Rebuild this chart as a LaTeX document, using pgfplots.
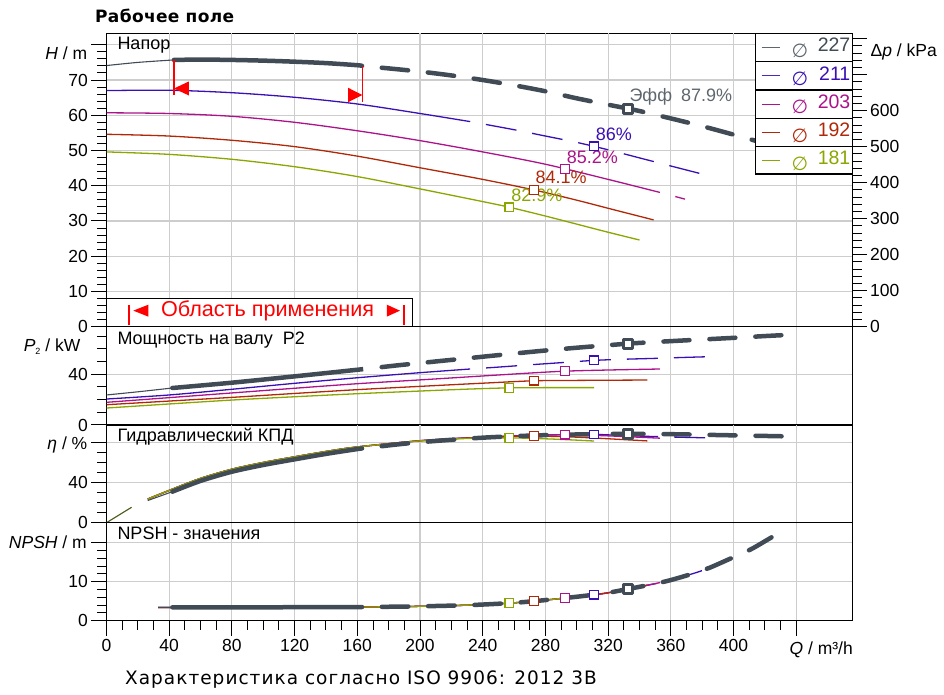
\documentclass[border=0pt]{standalone}
\usepackage{fontspec}
\setmainfont{Liberation Sans}
\newfontfamily\dejavu{DejaVu Sans}
\newfontfamily\dejavuw[LetterSpace=5.5]{DejaVu Sans}
\newfontfamily\dejavut[LetterSpace=2]{DejaVu Sans}
\usepackage{pgfplots}
\pgfplotsset{compat=1.18}
\definecolor{cA}{RGB}{65,75,85}
\definecolor{cB}{RGB}{58,16,180}
\definecolor{cC}{RGB}{172,18,138}
\definecolor{cD}{RGB}{176,40,8}
\definecolor{cE}{RGB}{138,166,0}
\definecolor{gridc}{RGB}{205,205,205}
\newcommand{\tf}{\fontsize{17.5}{20}\selectfont}
\pgfplotsset{
  panel/.style={scale only axis, width=746.2pt, xmin=0, xmax=476, anchor=south west,
    axis line style={line width=1.3pt, black},
    ymajorgrids, grid style={gridc, line width=1.1pt},
    tick align=outside, major tick length=15pt, minor tick length=9pt,
    tick style={black, line width=1pt},
    ytick pos=left, xtick pos=bottom,
    ticklabel style={font=\tf},
    /pgf/number format/assume math mode=true,
  },
  upper/.style={xtick=\empty, extra x ticks={40,80,...,440}, extra x tick labels={},
    extra x tick style={grid=major, major tick length=0pt}},
  cthin/.style={cA, line width=1.1pt, smooth},
  col/.style={line width=1.3pt, smooth},
  cthick/.style={cA, line width=4.5pt, line cap=round, smooth},
  cdash/.style={cA, line width=4.5pt, line cap=round, smooth, dash pattern=on 26.5pt off 19.8pt, dash phase=26.5pt},
  cdashb/.style={cA, line width=4.5pt, line cap=round, smooth, dash pattern=on 26pt off 20pt, dash phase=10.2pt},
  bdash/.style={cB, line width=1.3pt, smooth, dash pattern=on 31pt off 16pt, dash phase=31pt},
  smk/.style={only marks, mark=square*, mark size=4.3pt, mark options={fill=white, line width=1.2pt, solid}},
  bmk/.style={only marks, mark=square*, mark size=4.5pt, mark options={draw=cA, fill=white, line width=3pt, line join=round, solid}},
}
\begin{document}
\begin{tikzpicture}
\useasboundingbox (0,0) rectangle (944pt,695pt);

% ================= H panel
\begin{axis}[panel, upper, at={(106.5pt,368.3pt)}, height=293.4pt, ymin=0, ymax=83.26,
  ytick={0,10,20,30,40,50,60,70,80}, yticklabels={0,10,20,30,40,50,60,70,{}}, minor y tick num=4]
\addplot[cB, col] coordinates {(0,67.0) (40,67.1) (80,66.4) (120,65.1) (160,63.2) (200,60.5) (232,58.2)};
\addplot[bdash] coordinates {(232,58.2) (260,55.9) (280,54.1) (300,52.3) (320,50.2) (340,47.9) (360,45.6) (381,43.2)};
\addplot[cC, col] coordinates {(0,60.7) (40,60.5) (80,59.7) (120,58.0) (160,55.6) (200,52.8) (240,49.6) (280,46.1) (320,41.8) (353,38.1)};
\addplot[cC, line width=1.3pt, dash pattern=on 31pt off 16pt, dash phase=31pt] coordinates {(353,38.1) (369,36.2)};
\addplot[cD, col] coordinates {(0,54.6) (40,54.1) (80,52.9) (120,51.1) (160,48.4) (200,45.1) (240,41.8) (272.7,38.8) (300,35.9) (320,33.6) (349,30.3)};
\addplot[cE, col] coordinates {(0,49.6) (40,48.9) (80,47.5) (120,45.4) (160,42.6) (200,39.1) (240,35.5) (257,33.9) (280,31.4) (300,29.1) (320,26.8) (340,24.6)};
\addplot[cthin] coordinates {(0,74.1) (20,75.0) (43,75.7)};
\addplot[cthick] coordinates {(43,75.7) (60,75.8) (80,75.7) (100,75.5) (120,75.2) (140,74.8) (160,74.2) (163,74.0)};
\addplot[cdash] coordinates {(163,74.0) (180,73.3) (200,72.4) (220,71.3) (240,70.0) (260,68.5) (280,66.8) (300,64.8) (320,63.0) (332.5,61.9)};
\addplot[cdashb] coordinates {(332.5,61.9) (340,61.2) (360,59.1) (380,56.9) (400,54.5) (420,52.0) (431,50.6)};
\addplot[cB, smk] coordinates {(311,51.2)};
\addplot[cC, smk] coordinates {(292.5,44.8)};
\addplot[cD, smk] coordinates {(272.7,38.8)};
\addplot[cE, smk] coordinates {(257,33.9)};
\addplot[bmk] coordinates {(332.5,61.9)};
% operating range marks
\addplot[red, line width=1.2pt] coordinates {(43.06,75.7) (43.06,65.75)};
\addplot[red, line width=1.2pt] coordinates {(163.2,74.0) (163.2,63.85)};
\addplot[red, fill=red, draw=none] coordinates {(43.06,67.6) (52.6,69.6) (52.6,65.6)} -- cycle;
\addplot[red, fill=red, draw=none] coordinates {(163.2,65.75) (154.1,67.8) (154.1,63.7)} -- cycle;
% efficiency labels
\node[anchor=west, inner sep=0pt, text=cA!85, font=\fontsize{18}{20}\selectfont] at (axis cs:333.5,65.3) {Эфф\hspace{9pt}87.9\%};
\node[anchor=west, inner sep=0pt, text=cB, font=\fontsize{18}{20}\selectfont] at (axis cs:312.1,54.7) {86\%};
\node[anchor=west, inner sep=0pt, text=cC, font=\fontsize{18}{20}\selectfont] at (axis cs:293.6,48.2) {85.2\%};
\node[anchor=west, inner sep=0pt, text=cD, font=\fontsize{18}{20}\selectfont] at (axis cs:273.6,42.4) {84.1\%};
\node[anchor=west, inner sep=0pt, text=cE, font=\fontsize{18}{20}\selectfont] at (axis cs:258.1,37.4) {82.9\%};
% application range box
\draw[black, line width=1pt, fill=white] (axis cs:0,0) rectangle (axis cs:195,7.86);
\draw[red, line width=2pt] (axis cs:14.4,0.4) -- (axis cs:14.4,6.1);
\draw[red, line width=2pt] (axis cs:189.8,0.4) -- (axis cs:189.8,6.1);
\fill[red] (axis cs:17.1,4.55) -- (axis cs:26.7,6.25) -- (axis cs:26.7,2.85) -- cycle;
\fill[red] (axis cs:187.2,4.55) -- (axis cs:178.8,6.25) -- (axis cs:178.8,2.85) -- cycle;
\node[text=red, font=\fontsize{21.6}{24}\selectfont, inner sep=0pt] at (axis cs:102.8,4.55) {Область применения};
\end{axis}

% ================= Delta p axis
\begin{axis}[scale only axis, width=746.2pt, height=293.4pt, at={(106.5pt,368.3pt)}, anchor=south west,
  xmin=0, xmax=476, ymin=0, ymax=815.1, axis x line=none, axis y line*=right,
  axis line style={-, line width=1.3pt, black},
  ytick={0,100,200,300,400,500,600,700,800}, yticklabels={0,100,200,300,400,500,600,{},{}},
  minor y tick num=4, tick align=outside, major tick length=14pt, minor tick length=9pt,
  tick style={black, line width=1pt}, ticklabel style={font=\tf},
  /pgf/number format/assume math mode=true]
\addplot[draw=none] coordinates {(0,0)};
\end{axis}

% ================= P panel
\begin{axis}[panel, upper, at={(106.5pt,270pt)}, height=98.3pt, ymin=0, ymax=77.6,
  ytick={0,40,80}, yticklabels={0,40,{}}, minor y tick num=3]
\addplot[cB, col] coordinates {(0,20.5) (40,23.7) (80,28.2) (120,32.9) (160,37.3) (200,41.3) (232,44.2)};
\addplot[bdash] coordinates {(232,44.2) (250,45.7) (270,47.5) (290,49.2) (311,51.0) (330,51.9) (350,52.6) (370,53.4) (384,53.9)};
\addplot[cC, col] coordinates {(0,17.9) (40,21.6) (80,25.3) (120,29.0) (160,32.6) (200,35.6) (240,38.7) (270,41.0) (292.5,42.5) (320,43.4) (353,44.2)};
\addplot[cD, col] coordinates {(0,16.0) (40,18.9) (80,21.8) (120,24.9) (160,27.9) (200,30.5) (240,33.0) (272.7,34.9) (300,35.2) (345,35.5)};
\addplot[cE, col] coordinates {(0,13.4) (40,16.6) (80,19.7) (120,22.3) (160,24.7) (200,26.8) (230,28.3) (257,29.3) (285,29.5) (311,29.5)};
\addplot[cthin] coordinates {(0,23.7) (20,26.2) (42,29.2)};
\addplot[cthick] coordinates {(42,29.2) (80,33.4) (120,38.4) (160,43.6) (163,44.0)};
\addplot[cdash] coordinates {(163,44.0) (185,47.0) (200,48.9) (220,51.4) (240,53.9) (260,56.4) (280,58.8) (300,61.0) (320,63.0) (332.5,64.2)};
\addplot[cdashb] coordinates {(332.5,64.2) (340,64.8) (360,66.2) (380,67.5) (400,68.8) (420,70.2) (431,70.9)};
\addplot[cB, smk] coordinates {(311,51.0)};
\addplot[cC, smk] coordinates {(292.5,42.5)};
\addplot[cD, smk] coordinates {(272.7,34.9)};
\addplot[cE, smk] coordinates {(257,29.3)};
\addplot[bmk] coordinates {(332.5,64.2)};
\end{axis}

% ================= eta panel
\begin{axis}[panel, upper, at={(106.5pt,172.3pt)}, height=97.7pt, ymin=0, ymax=97.0,
  ytick={0,40,80}, yticklabels={0,40,{}}, minor y tick num=3]
\addplot[cB, col] coordinates {(26.3,23.5) (42,33.3) (60,44.0) (80,53.1) (100,59.8) (120,65.4) (140,70.7) (160,75.2) (200,81.4) (232,84.4)};
\addplot[bdash] coordinates {(232,84.4) (260,86.0) (280,87.0) (311,87.6) (330,86.5) (350,85.5) (370,84.7) (384,84.2)};
\addplot[cC, col] coordinates {(26.3,23.5) (42,33.3) (60,44.0) (80,53.1) (100,59.8) (120,65.4) (140,70.7) (160,75.2) (200,81.4) (240,84.9) (270,86.7) (292.5,87.4) (320,86.2) (353,83.9)};
\addplot[cD, col] coordinates {(26.3,23.5) (42,33.3) (60,44.0) (80,53.1) (100,59.8) (120,65.4) (140,70.7) (160,75.2) (200,81.3) (240,84.8) (272.7,85.9) (300,84.9) (345,81.2)};
\addplot[cE, col] coordinates {(26.3,23.5) (42,33.3) (60,44.0) (80,53.1) (100,59.8) (120,65.4) (140,70.7) (160,75.2) (200,81.2) (230,83.6) (257,84.2) (285,83.0) (311,81.1)};
\addplot[cE, line width=1.2pt] coordinates {(0,0) (16,15.3)};
\addplot[cA, line width=0.7pt] coordinates {(0,0) (16,15.3)};
\addplot[cthin] coordinates {(26.3,22.0) (42,30.8)};
\addplot[cthick] coordinates {(42,30.8) (60,41.5) (80,50.6) (100,57.3) (120,62.9) (140,68.3) (160,73.1) (163,73.7)};
\addplot[cdash] coordinates {(163,73.7) (185,77.6) (200,79.9) (220,82.3) (240,84.4) (260,85.9) (280,86.9) (300,87.6) (320,88.1) (332.5,88.3)};
\addplot[cdashb] coordinates {(332.5,88.3) (354,88.0) (374,87.5) (394,86.9) (414,86.3) (431,85.8)};
\addplot[cB, smk] coordinates {(311,87.6)};
\addplot[cC, smk] coordinates {(292.5,87.4)};
\addplot[cD, smk] coordinates {(272.7,85.9)};
\addplot[cE, smk] coordinates {(257,84.2)};
\addplot[bmk] coordinates {(332.5,88.3)};
\end{axis}

% ================= NPSH panel
\begin{axis}[panel, at={(106.5pt,74.3pt)}, height=98pt, ymin=0, ymax=25.1,
  xmajorgrids, xtick={0,40,80,120,160,200,240,280,320,360,400,440},
  xticklabels={0,40,80,120,160,200,240,280,320,360,400,{}}, minor x tick num=3,
  ytick={0,10,20}, yticklabels={0,10,{}}, minor y tick num=4]
\addplot[cB, col] coordinates {(33,3.4) (80,3.43) (120,3.45) (163,3.5) (190,3.62) (214,3.8) (232,3.98)};
\addplot[bdash] coordinates {(232,3.98) (257,4.5) (272.7,5.0) (292.5,5.8) (311,6.65) (320,7.15) (332.5,8.1) (356,10.0) (376,12.3) (384,13.45)};
\addplot[cC, col] coordinates {(33,3.4) (80,3.43) (120,3.45) (163,3.5) (190,3.62) (214,3.8) (235,4.05) (257,4.5) (272.7,5.0) (292.5,5.8) (311,6.65) (320,7.15) (332.5,8.1) (353,9.75)};
\addplot[cD, col] coordinates {(33,3.4) (80,3.43) (120,3.45) (163,3.5) (190,3.62) (214,3.8) (235,4.05) (257,4.5) (272.7,5.0) (292.5,5.8) (311,6.65) (320,7.15) (332.5,8.1) (345,9.1)};
\addplot[cE, col] coordinates {(33,3.4) (80,3.43) (120,3.45) (163,3.5) (190,3.62) (214,3.8) (235,4.05) (257,4.5) (272.7,5.0) (292.5,5.8) (311,6.65)};
\addplot[cthin] coordinates {(33,3.4) (42,3.43)};
\addplot[cthick] coordinates {(42,3.43) (80,3.43) (120,3.45) (163,3.5)};
\addplot[cdash] coordinates {(163,3.5) (190,3.62) (214,3.8) (235,4.05) (257,4.5) (272.7,5.0) (292.5,5.8) (311,6.65) (320,7.15) (332.5,8.1)};
\addplot[cdashb] coordinates {(332.5,8.1) (356,10.0) (376,12.3) (385,13.6) (404,17.0) (413,18.7) (431,23.0)};
\addplot[cB, smk] coordinates {(311,6.65)};
\addplot[cC, smk] coordinates {(292.5,5.8)};
\addplot[cD, smk] coordinates {(272.7,5.0)};
\addplot[cE, smk] coordinates {(257,4.5)};
\addplot[bmk] coordinates {(332.5,8.1)};
\end{axis}

% ================= legend
\draw[line width=1.2pt, fill=white] (755.7pt,521pt) rectangle (852.7pt,661.7pt);
\draw[line width=1.2pt] (755.7pt,633.3pt) -- (852.7pt,633.3pt);
\draw[line width=1.2pt] (755.7pt,605pt) -- (852.7pt,605pt);
\draw[line width=1.2pt] (755.7pt,576.7pt) -- (852.7pt,576.7pt);
\draw[line width=1.2pt] (755.7pt,548.3pt) -- (852.7pt,548.3pt);
\draw[cA!85, line width=1.2pt] (761.7pt,647.5pt) -- (780pt,647.5pt);
\draw[cB!90, line width=1.1pt] (761.7pt,619.5pt) -- (780pt,619.5pt);
\draw[cC, line width=1.2pt] (761.7pt,590.8pt) -- (780pt,590.8pt);
\draw[cD, line width=1.2pt] (761.7pt,562.5pt) -- (780pt,562.5pt);
\draw[cE, line width=1.2pt] (761.7pt,534.6pt) -- (780pt,534.6pt);
\node[text=cA!85, font=\dejavu\fontsize{19}{20}\selectfont, inner sep=0pt] at (800pt,644.5pt) {∅};
\node[text=cB, font=\dejavu\fontsize{19}{20}\selectfont, inner sep=0pt] at (800pt,616.1pt) {∅};
\node[text=cC, font=\dejavu\fontsize{19}{20}\selectfont, inner sep=0pt] at (800pt,587.8pt) {∅};
\node[text=cD, font=\dejavu\fontsize{19}{20}\selectfont, inner sep=0pt] at (800pt,559.5pt) {∅};
\node[text=cE, font=\dejavu\fontsize{19}{20}\selectfont, inner sep=0pt] at (800pt,531.6pt) {∅};
\node[anchor=east, text=cA, font=\fontsize{19.5}{22}\selectfont, inner sep=0pt] at (850.5pt,650pt) {227};
\node[anchor=east, text=cB, font=\fontsize{19.5}{22}\selectfont, inner sep=0pt] at (850.5pt,621.6pt) {211};
\node[anchor=east, text=cC, font=\fontsize{19.5}{22}\selectfont, inner sep=0pt] at (850.5pt,593.3pt) {203};
\node[anchor=east, text=cD, font=\fontsize{19.5}{22}\selectfont, inner sep=0pt] at (850.5pt,565pt) {192};
\node[anchor=east, text=cE, font=\fontsize{19.5}{22}\selectfont, inner sep=0pt] at (850.5pt,537.1pt) {181};

% ================= texts
\node[anchor=west, inner sep=0pt, font=\dejavut\bfseries\fontsize{17}{19}\selectfont] at (95pt,679.5pt) {Рабочее поле};
\node[anchor=west, inner sep=0pt, font=\dejavuw\fontsize{18.5}{20}\selectfont] at (125pt,15pt) {Характеристика согласно ISO 9906: 2012 3B};
\node[anchor=west, inner sep=0pt, font=\fontsize{18}{20}\selectfont] at (117.3pt,650pt) {Напор};
\node[anchor=west, inner sep=0pt, font=\fontsize{18}{20}\selectfont] at (117.3pt,355pt) {Мощность на валу\ \ P2};
\node[anchor=west, inner sep=0pt, font=\fontsize{18}{20}\selectfont] at (117.3pt,258.3pt) {Гидравлический КПД};
\node[anchor=west, inner sep=0pt, font=\fontsize{18}{20}\selectfont] at (117.3pt,161.7pt) {NPSH - значения};
\node[anchor=east, inner sep=0pt, font=\tf] at (87.5pt,641.7pt) {\textit{H} / m};
\node[anchor=east, inner sep=0pt, font=\tf] at (80.5pt,348.3pt) {\textit{P}\raisebox{-0.4ex}{\fontsize{9}{9}\selectfont 2} / kW};
\node[anchor=east, inner sep=0pt, font=\tf] at (87.5pt,250pt) {\textit{η} / \%};
\node[anchor=east, inner sep=0pt, font=\tf] at (87pt,152.3pt) {\textit{NPSH} / m};
\node[anchor=west, inner sep=0pt, font=\tf] at (870.5pt,643.3pt) {Δ\textit{p} / kPa};
\node[anchor=east, inner sep=0pt, font=\tf] at (853pt,45pt) {\textit{Q} / m³/h};
\end{tikzpicture}
\end{document}
